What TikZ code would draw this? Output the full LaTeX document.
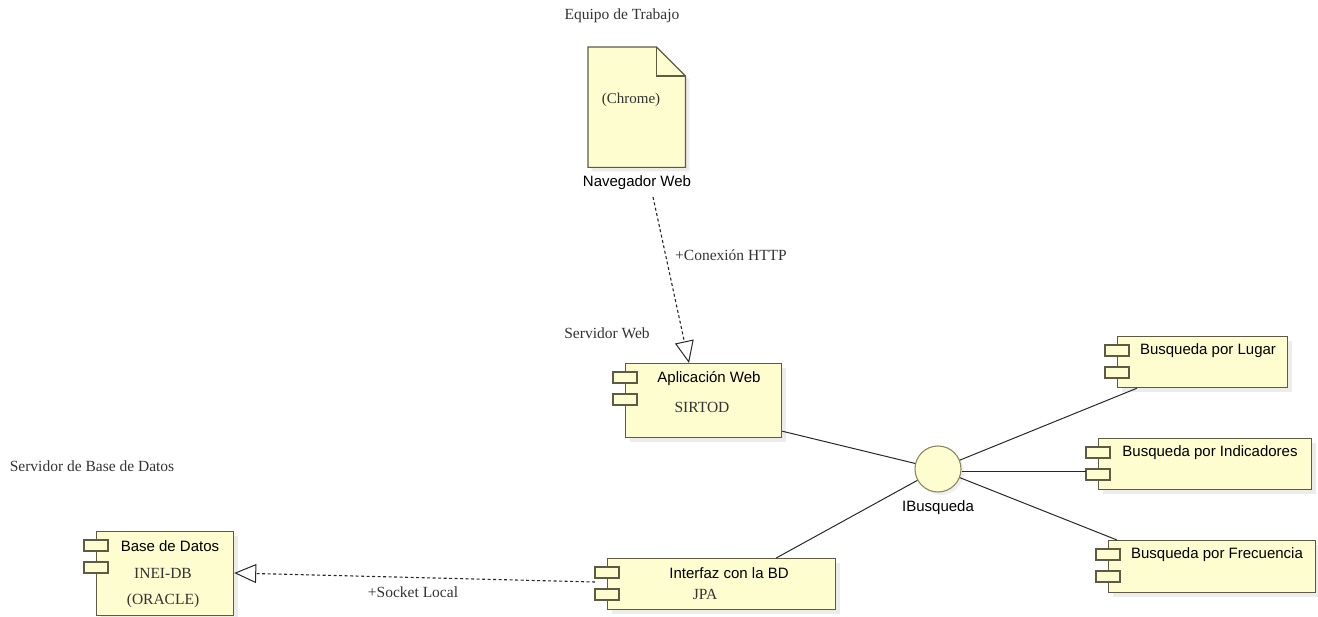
\documentclass[tikz,border=0pt]{standalone}
\usepackage{fontspec}
\setmainfont{Liberation Serif}
\newfontfamily\sansf{Liberation Sans}
\usetikzlibrary{arrows.meta,shadows}
\definecolor{boxfill}{RGB}{254,253,208}
\definecolor{boxline}{RGB}{95,90,70}
\definecolor{circline}{RGB}{140,135,100}
\definecolor{linec}{RGB}{40,40,40}
\tikzset{
  compbox/.style={draw=boxline, fill=boxfill, line width=1.2pt, inner sep=0pt, anchor=north west,
    drop shadow={shadow xshift=4pt, shadow yshift=-4pt, fill=black!12, opacity=0.6}},
  portbox/.style={draw=boxline, fill=boxfill, line width=1.1pt},
  sertxt/.style={inner sep=0pt, font=\fontsize{15.5}{18}\selectfont, text=black!80},
  santxt/.style={inner sep=0pt, font=\sansf\fontsize{15}{18}\selectfont, text=black},
  conn/.style={draw=linec, line width=1pt},
  dep/.style={draw=linec, line width=1.1pt, dash pattern=on 3pt off 2.5pt},
  opentip/.style={-{Triangle[open, length=22pt, width=19pt, line width=1pt, fill=white]}}
}
\newcommand\component[5]{%
  \node[compbox, minimum width=#4pt-#2pt, minimum height=#5pt-#3pt] (#1) at (#2,#3) {};
  \draw[portbox] ([shift={(-12pt,-9pt)}]#1.north west) rectangle ++(24,11);
  \draw[portbox] ([shift={(-12pt,-31pt)}]#1.north west) rectangle ++(24,11);
}
\begin{document}
\begin{tikzpicture}[x=1pt,y=-1pt]
\useasboundingbox (0,0) rectangle (1318,617);

% Navegador web (document)
\node[inner sep=0pt, minimum width=97pt, minimum height=120pt, anchor=north west] (doc) at (588,47) {};
\filldraw[draw=boxline, fill=boxfill, line width=1.2pt,
  drop shadow={shadow xshift=4pt, shadow yshift=-4pt, fill=black!12, opacity=0.6}]
  (doc.north west) -- ([xshift=-29pt]doc.north east) -- ([yshift=-29pt]doc.north east)
  -- (doc.south east) -- (doc.south west) -- cycle;
\draw[draw=boxline, line width=1.2pt] ([xshift=-29pt]doc.north east) -- ([xshift=-29pt,yshift=-29pt]doc.north east) -- ([yshift=-29pt]doc.north east);
\node[sertxt] (equipo) at (622,16) {Equipo de Trabajo};
\node[sertxt, font=\fontsize{15}{18}\selectfont] (chrome) at (631,100) {(Chrome)};
\node[santxt] (nav) at (637,183) {Navegador Web};
\coordinate (navport) at (653,197);

% Components
\component{app}{625}{363}{781}{437}
\node[santxt] (appt) at (709,379) {Aplicación Web};
\node[sertxt] (apps) at (702,407) {SIRTOD};
\node[sertxt] (servweb) at (607,333) {Servidor Web};

\component{base}{96}{531}{233}{615}
\node[santxt] (baset) at (170,546) {Base de Datos};
\node[sertxt] (bases1) at (163,573) {INEI-DB};
\node[sertxt] (bases2) at (163,601) {(ORACLE)};
\node[sertxt] (servbd) at (92,466) {Servidor de Base de Datos};

\component{bd}{607}{558}{835}{609}
\node[santxt] (bdt) at (729,573) {Interfaz con la BD};
\node[sertxt] (bds) at (705,594) {JPA};

\component{lugar}{1117}{336}{1287}{387}
\node[santxt] (lugart) at (1208,351) {Busqueda por Lugar};
\component{ind}{1098}{438}{1311}{489}
\node[santxt] (indt) at (1210,453) {Busqueda por Indicadores};
\component{freq}{1108}{540}{1315}{592}
\node[santxt] (freqt) at (1217,555) {Busqueda por Frecuencia};

% Interface
\node[circle, draw=circline, fill=boxfill, line width=1.1pt, minimum size=46pt, inner sep=0pt,
  drop shadow={shadow xshift=3pt, shadow yshift=-3pt, fill=black!10, opacity=0.6}] (ib) at (938,469) {};
\node[santxt] (ibt) at (938,508) {IBusqueda};

% Connectors
\draw[conn] ([yshift=7pt]app.south east) -- (ib);
\draw[conn] ([xshift=-60pt]bd.north east) -- (ib);
\draw[conn] (ib) -- ([xshift=20pt]lugar.south west);
\draw[conn] (ib.east |- 0,472) -- ([shift={(-12pt,-34pt)}]ind.north west);
\draw[conn] (ib) -- ([xshift=9pt]freq.north west);

\draw[dep, opentip] (navport) -- ([xshift=64pt]app.north west);
\node[sertxt] (conex) at (731,255) {+Conexión HTTP};

\draw[dep, opentip] ([shift={(-12pt,-24pt)}]bd.north west) -- ([yshift=-42pt]base.north east);
\node[sertxt] (sock) at (413,592) {+Socket Local};
\end{tikzpicture}
\end{document}
